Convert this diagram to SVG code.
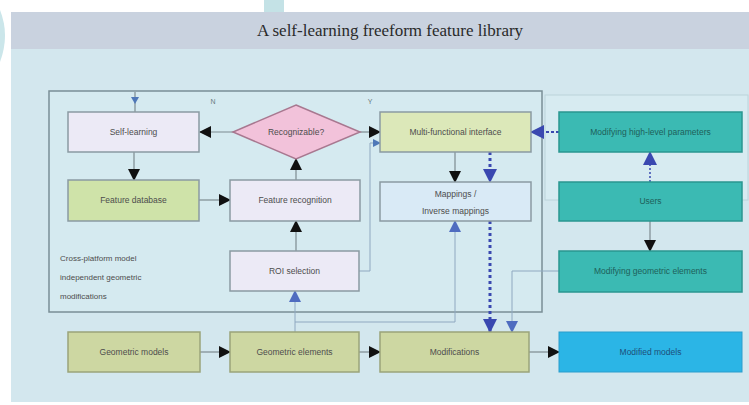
<svg xmlns="http://www.w3.org/2000/svg" width="749" height="405" viewBox="0 0 749 405">
<defs>
<marker id="ab" markerUnits="userSpaceOnUse" markerWidth="12" markerHeight="12" viewBox="0 0 12 12" refX="11" refY="6" orient="auto"><path d="M0,0 L12,6 L0,12 Z" fill="#111"/></marker>
<marker id="au" markerUnits="userSpaceOnUse" markerWidth="14" markerHeight="14" viewBox="0 0 14 14" refX="13" refY="7" orient="auto"><path d="M0,0 L14,7 L0,14 Z" fill="#3a48b0"/></marker>
<marker id="al" markerUnits="userSpaceOnUse" markerWidth="12" markerHeight="12" viewBox="0 0 12 12" refX="11" refY="6" orient="auto"><path d="M0,0 L12,6 L0,12 Z" fill="#4f6cc0"/></marker>
<marker id="as" markerUnits="userSpaceOnUse" markerWidth="8" markerHeight="8" viewBox="0 0 8 8" refX="7" refY="4" orient="auto"><path d="M0,0 L8,4 L0,8 Z" fill="#4f78b8"/></marker>
</defs>
<style>
.n{stroke:#8a9aa2;stroke-width:1.5}
.lav{fill:#eceaf6}
.grn{fill:#cfe3a9}
.yel{fill:#dce8b9}
.olv{fill:#cdd7a2;stroke:#9aa47a}
.tea{fill:#3bbab3;stroke:#2a9690;stroke-width:1.5}
.t{font-family:"Liberation Sans",Arial,sans-serif;font-size:8.5px;fill:#4d4d4d;text-anchor:middle}
.tt{font-family:"Liberation Sans",Arial,sans-serif;font-size:8.5px;fill:#1e5f5a;text-anchor:middle}
.c{fill:none;stroke:#7d8a90;stroke-width:1.2}
.cb{fill:none;stroke:#3a48b0;stroke-width:3;stroke-dasharray:3 3}
.cl{fill:none;stroke:#8fa8c0;stroke-width:1}
</style>
<rect width="749" height="405" fill="#ffffff"/>
<rect x="264" y="0" width="20" height="13" fill="#c4e2e6"/>
<path d="M0,10 Q10,35 0,62 Z" fill="#cbe6ea"/>
<rect x="11" y="12" width="738" height="390" fill="#d3e7ee"/>
<rect x="11" y="12" width="738" height="37" fill="#c9d2df"/>
<text x="390" y="36" font-family="'Liberation Serif','Times New Roman',serif" font-size="17" fill="#2a2a2a" text-anchor="middle">A self-learning freeform feature library</text>
<rect x="545" y="95" width="203" height="105" fill="#d7ebf1" stroke="#bcd3da" stroke-width="1"/>
<rect id="frame" x="49" y="91" width="493" height="221" fill="#d5eaf0" stroke="#7a8e96" stroke-width="1.5"/>
<text x="60" y="261" font-family="'Liberation Sans',Arial,sans-serif" font-size="8" fill="#4d4d4d">Cross-platform model</text>
<text x="60" y="280" font-family="'Liberation Sans',Arial,sans-serif" font-size="8" fill="#4d4d4d">independent geometric</text>
<text x="60" y="299" font-family="'Liberation Sans',Arial,sans-serif" font-size="8" fill="#4d4d4d">modifications</text>
<text x="213" y="104" font-family="'Liberation Sans',Arial,sans-serif" font-size="7" fill="#6a7a80" text-anchor="middle">N</text>
<text x="370" y="104" font-family="'Liberation Sans',Arial,sans-serif" font-size="7" fill="#6a7a80" text-anchor="middle">Y</text>

<g id="connectors">
<line class="c" x1="135" y1="92" x2="135" y2="112"/>
<path d="M131,97 L139,97 L135,104 Z" fill="#4f78b8"/>
<line class="c" x1="233" y1="132" x2="200" y2="132" marker-end="url(#ab)"/>
<line class="c" x1="134" y1="152" x2="134" y2="180" marker-end="url(#ab)"/>
<line class="c" x1="199" y1="200" x2="230" y2="200" marker-end="url(#ab)"/>
<line class="c" x1="296" y1="180" x2="296" y2="159" marker-end="url(#ab)"/>
<line class="c" x1="296" y1="251" x2="296" y2="221" marker-end="url(#ab)"/>
<line class="c" x1="360" y1="132" x2="380" y2="132" marker-end="url(#ab)"/>
<polyline class="cl" points="359,271 370,271 370,143 380,143" marker-end="url(#as)"/>
<line class="c" x1="455" y1="152" x2="455" y2="182" marker-end="url(#ab)"/>
<line class="cb" x1="490" y1="152" x2="490" y2="182" marker-end="url(#au)"/>
<line class="cb" x1="490" y1="221" x2="490" y2="332" marker-end="url(#au)"/>
<line class="cl" x1="295" y1="332" x2="295" y2="291" marker-end="url(#al)"/>
<polyline class="cl" points="295,322 455,322 455,221" marker-end="url(#al)"/>
<polyline class="cl" points="559,271 512,271 512,332" marker-end="url(#al)"/>
<line x1="559" y1="132" x2="531" y2="132" stroke="#3a48b0" stroke-width="2" stroke-dasharray="3 2" marker-end="url(#au)"/>
<line x1="650" y1="182" x2="650" y2="152" stroke="#3a48b0" stroke-width="1.5" stroke-dasharray="2 2" marker-end="url(#au)"/>
<line class="c" x1="650" y1="221" x2="650" y2="251" marker-end="url(#ab)"/>
<line class="c" x1="200" y1="352" x2="230" y2="352" marker-end="url(#ab)"/>
<line class="c" x1="359" y1="352" x2="380" y2="352" marker-end="url(#ab)"/>
<line class="c" x1="529" y1="352" x2="559" y2="352" marker-end="url(#ab)"/>
</g>

<g id="self-learning"><rect class="n lav" x="68" y="112" width="131" height="40"/><text class="t" x="133.5" y="135">Self-learning</text></g>
<g id="recognizable"><polygon points="296,105 360,132 296,159 233,132" fill="#f2c2da" stroke="#a87890" stroke-width="1.5"/><text class="t" x="296" y="135">Recognizable?</text></g>
<g id="multi-functional-interface"><rect class="n yel" x="380" y="112" width="151" height="40"/><text class="t" x="455.5" y="135">Multi-functional interface</text></g>
<g id="modifying-high-level-parameters"><rect class="tea" x="559" y="112" width="183" height="40"/><text class="tt" x="650.5" y="135">Modifying high-level parameters</text></g>
<g id="feature-database"><rect class="n grn" x="68" y="180" width="131" height="41"/><text class="t" x="133.5" y="203">Feature database</text></g>
<g id="feature-recognition"><rect class="n lav" x="230" y="180" width="130" height="41"/><text class="t" x="295" y="203">Feature recognition</text></g>
<g id="mappings"><rect class="n" fill="#d9eaf6" x="380" y="182" width="151" height="39"/><text class="t" x="455.5" y="197">Mappings /</text><text class="t" x="455.5" y="214">Inverse mappings</text></g>
<g id="users"><rect class="tea" x="559" y="182" width="183" height="39"/><text class="tt" x="650.5" y="204">Users</text></g>
<g id="roi-selection"><rect class="n lav" x="230" y="251" width="129" height="40"/><text class="t" x="294.5" y="274">ROI selection</text></g>
<g id="modifying-geometric-elements"><rect class="tea" x="559" y="251" width="183" height="41"/><text class="tt" x="650.5" y="274">Modifying geometric elements</text></g>
<g id="geometric-models"><rect class="olv" stroke-width="1.5" x="68" y="332" width="132" height="40"/><text class="t" x="134" y="355">Geometric models</text></g>
<g id="geometric-elements"><rect class="olv" stroke-width="1.5" x="230" y="332" width="129" height="40"/><text class="t" x="294.5" y="355">Geometric elements</text></g>
<g id="modifications"><rect class="olv" stroke-width="1.5" x="380" y="332" width="149" height="40"/><text class="t" x="454.5" y="355">Modifications</text></g>
<g id="modified-models"><rect fill="#2bb5e6" stroke="#2a9dcc" stroke-width="1" x="559" y="332" width="183" height="40"/><text class="t" x="650.5" y="355" style="fill:#1d4f7a">Modified models</text></g>
</svg>
